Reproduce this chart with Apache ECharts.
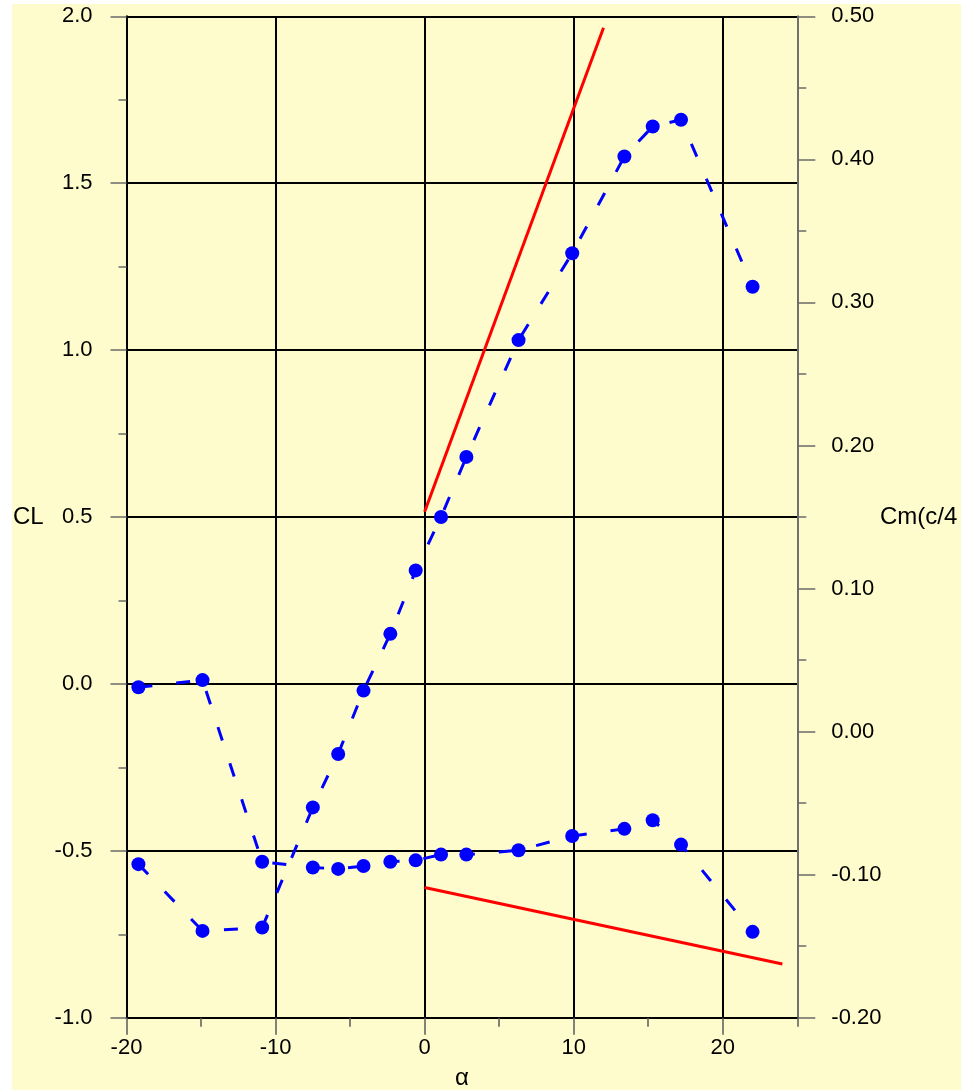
<!DOCTYPE html>
<html>
<head>
<meta charset="utf-8">
<script src="https://cdn.jsdelivr.net/npm/echarts@6/dist/echarts.min.js"></script>
<style>
  html, body { margin: 0; padding: 0; background: #ffffff; }
  #bg { position: absolute; left: 12px; top: 4px; width: 949px; height: 1086px; background: #fefccc; }
  #chart { position: absolute; left: 0; top: 0; width: 961px; height: 1090px; }
</style>
</head>
<body>
<div id="bg"></div>
<div id="chart"></div>
<script>
// Measured data (angle of attack in degrees)
const alpha = [-19.2, -14.9, -10.9, -7.5, -5.8, -4.1, -2.3, -0.6, 1.1, 2.8, 6.3, 9.9, 13.4, 15.3, 17.2, 22.0];
const clValues = [-0.54, -0.74, -0.73, -0.37, -0.21, -0.02, 0.15, 0.34, 0.50, 0.68, 1.03, 1.29, 1.58, 1.67, 1.69, 1.19];
const cmValues = [0.031, 0.036, -0.091, -0.095, -0.096, -0.094, -0.091, -0.090, -0.086, -0.086, -0.083, -0.073, -0.068, -0.062, -0.079, -0.140];

// Reference (theory) lines
const clTheoryAlpha = [0, 12];
const clTheoryValues = [0.516, 1.966];
const cmTheoryAlpha = [0, 24];
const cmTheoryValues = [-0.109, -0.1625];

// Axis settings
const xTicks = { min: -20, max: 25, major: 10, minor: 5 };
const clAxis = { min: -1, max: 2, interval: 0.5 };
const cmAxis = { min: -0.2, max: 0.5, interval: 0.1 };

const FONT = "'Liberation Sans', Arial, Helvetica, sans-serif";
const pair = (xs, ys) => xs.map((x, i) => [x, ys[i]]);

const chart = echarts.init(document.getElementById('chart'), null, { renderer: 'canvas' });
chart.setOption({
  backgroundColor: 'transparent',
  animation: false,
  grid: { left: 126.5, right: 163.7, top: 16.3, bottom: 72.3, containLabel: false },
  xAxis: [
    {
      type: 'value', position: 'bottom',
      min: xTicks.min, max: xTicks.max, interval: xTicks.major,
      axisLine: { show: true, onZero: false, lineStyle: { color: '#000', width: 2 } },
      axisTick: { show: true, length: 17, lineStyle: { color: '#5a5a5a', width: 1.5 } },
      axisLabel: { show: true, margin: 19, fontSize: 22, color: '#000', fontFamily: FONT, showMaxLabel: false,
        formatter: v => (v === xTicks.max ? '' : String(v)) },
      splitLine: { show: true, showMinLine: false, showMaxLine: false, lineStyle: { color: '#000', width: 2 } }
    },
    {
      type: 'value', position: 'bottom',
      min: xTicks.min, max: xTicks.max, interval: xTicks.minor,
      axisLine: { show: false, onZero: false },
      axisTick: { show: true, length: 9, lineStyle: { color: '#5a5a5a', width: 1.5 } },
      axisLabel: { show: false },
      splitLine: { show: false }
    }
  ],
  yAxis: [
    {
      type: 'value', position: 'left',
      min: clAxis.min, max: clAxis.max, interval: clAxis.interval,
      axisLine: { show: true, onZero: false, lineStyle: { color: '#000', width: 2 } },
      axisTick: { show: true, length: 16, lineStyle: { color: '#6a6a6a', width: 1.5 } },
      minorTick: { show: true, splitNumber: 2, length: 8, lineStyle: { color: '#6a6a6a', width: 1.5 } },
      axisLabel: { margin: 34, fontSize: 22, color: '#000', fontFamily: FONT, formatter: v => v.toFixed(1) },
      splitLine: { show: true, showMinLine: false, lineStyle: { color: '#000', width: 2 } }
    },
    {
      type: 'value', position: 'right',
      min: cmAxis.min, max: cmAxis.max, interval: cmAxis.interval,
      axisLine: { show: true, onZero: false, lineStyle: { color: '#707070', width: 2 } },
      axisTick: { show: true, length: 18, lineStyle: { color: '#6a6a6a', width: 1.5 } },
      minorTick: { show: true, splitNumber: 2, length: 9, lineStyle: { color: '#6a6a6a', width: 1.5 } },
      axisLabel: { margin: 34, fontSize: 22, color: '#000', fontFamily: FONT, formatter: v => v.toFixed(2) },
      splitLine: { show: false }
    }
  ],
  graphic: [
    { type: 'text', left: 13, top: 505, style: { text: 'CL', font: '24px ' + FONT, fill: '#000' } },
    { type: 'text', left: 880, top: 505, style: { text: 'Cm(c/4', font: '24px ' + FONT, fill: '#000' } },
    { type: 'text', left: 455, top: 1066, style: { text: 'α', font: '24px ' + FONT, fill: '#000' } }
  ],
  series: [
    {
      type: 'line', xAxisIndex: 0, yAxisIndex: 1, data: pair(alpha, cmValues),
      symbol: 'circle', symbolSize: 14, showAllSymbol: true,
      itemStyle: { color: '#0000ff' },
      lineStyle: { color: '#0000ff', width: 3, type: [14, 24] }, z: 3
    },
    {
      type: 'line', xAxisIndex: 0, yAxisIndex: 0, data: pair(alpha, clValues),
      symbol: 'circle', symbolSize: 14, showAllSymbol: true,
      itemStyle: { color: '#0000ff' },
      lineStyle: { color: '#0000ff', width: 3, type: [14, 24] }, z: 3
    },
    {
      type: 'line', xAxisIndex: 0, yAxisIndex: 0, data: pair(clTheoryAlpha, clTheoryValues),
      symbol: 'none', lineStyle: { color: '#ff0000', width: 3 }, z: 2
    },
    {
      type: 'line', xAxisIndex: 0, yAxisIndex: 1, data: pair(cmTheoryAlpha, cmTheoryValues),
      symbol: 'none', lineStyle: { color: '#ff0000', width: 3 }, z: 2
    }
  ]
});
</script>
</body>
</html>
